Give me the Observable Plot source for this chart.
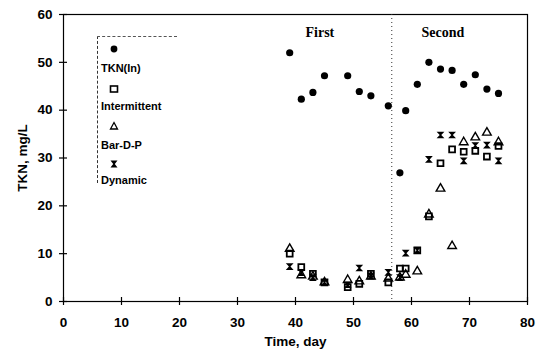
<!DOCTYPE html>
<html><head><meta charset="utf-8">
<script src="https://cdn.jsdelivr.net/npm/d3@7"></script>
<script src="https://cdn.jsdelivr.net/npm/@observablehq/plot@0.6"></script>
<style>
body{margin:0;background:#fff;}
#wrap{position:relative;width:546px;height:352px;font-family:"Liberation Sans",Arial,sans-serif;}
#legend{position:absolute;left:97px;top:36px;width:80px;height:147px;border-left:1.5px dashed #333;border-top:1.5px dashed #555;box-sizing:border-box;font-weight:bold;font-size:11px;color:#000;}
#legend .it{position:absolute;left:0;}
</style></head>
<body><div id="wrap"><div id="chart"></div><div id="legend"></div></div>
<script>
// ---- data ----
const tknDays = [39,41,43,45,49,51,53,56,58,59,61,63,65,67,69,71,73,75];
const tknIn   = [52,42.3,43.7,47.2,47.2,43.9,43,40.9,26.9,39.9,45.4,50,48.6,48.3,45.4,47.4,44.4,43.5];
const runDays = [39,41,43,45,49,51,53,56,58,59,61,63,65,67,69,71,73,75];
const intermittent = [10,7.2,5.8,4,3,3.7,5.8,4,6.9,6.9,10.7,17.8,28.9,31.8,31.3,31.5,30.3,32.5];
const barDP        = [11,5.5,5.2,4,4.5,4.2,5.2,4.8,5,5.6,6.3,18.2,23.6,11.6,33.3,34.3,35.3,33.3];
const dynamic      = [7.3,6,5,4,3.5,7,5.3,6.1,5,10.1,10.7,29.7,34.8,34.8,29.4,32.6,32.7,29.4];
const xTicks = [0,10,20,30,40,50,60,70,80];
const yTicks = [0,10,20,30,40,50,60];
const phaseBoundary = [56.6];
const phaseLabels = ["First","Second"];
const phaseLabelDay = [44.2,65.4];
const phaseLabelTkn = [56.3,56.3];
const seriesNames = ["TKN(In)","Intermittent","Bar-D-P","Dynamic"];

// hourglass symbol
const hourglass = {draw(ctx, size){const s=Math.sqrt(size/Math.PI); ctx.moveTo(-s,-s*0.85); ctx.lineTo(s,-s*0.85); ctx.lineTo(s*0.2,0); ctx.lineTo(s,s*0.85); ctx.lineTo(-s,s*0.85); ctx.lineTo(-s*0.2,0); ctx.closePath();}};

const tkn = tknDays.map((d,i)=>({day:d, v:tknIn[i]}));
const mk = arr => runDays.map((d,i)=>({day:d, v:arr[i]}));
const font = '"Liberation Sans", Arial, sans-serif';

const chart = Plot.plot({
  width:546, height:352,
  marginLeft:63, marginRight:19, marginTop:14, marginBottom:51,
  style:{fontFamily:font, fontSize:"13px", fontWeight:"bold", color:"#000", background:"#fff"},
  x:{domain:[0,80]},
  y:{domain:[0,60]},
  marks:[
    Plot.frame({stroke:"#000", strokeWidth:1.2}),
    Plot.ruleX(phaseBoundary, {stroke:"#333", strokeDasharray:"1,3", strokeWidth:1}),
    Plot.axisX({ticks:xTicks, tickSize:4, tickPadding:12, tickFormat:d=>d, label:"Time, day", labelAnchor:"center", labelArrow:"none", labelOffset:44, fontWeight:"bold", fontSize:13.5, strokeWidth:1.2}),
    Plot.axisX({ticks:xTicks, tickSize:-4, text:null, label:null, strokeWidth:1.2}),
    Plot.axisY({ticks:yTicks, tickSize:4, tickPadding:7, tickFormat:d=>d, label:"TKN, mg/L", labelAnchor:"center", labelArrow:"none", labelOffset:46, fontWeight:"bold", fontSize:13.5, strokeWidth:1.2}),
    Plot.axisY({ticks:yTicks, tickSize:-4, text:null, label:null, strokeWidth:1.2}),
    Plot.text(phaseLabels, {x:(d,i)=>phaseLabelDay[i], y:(d,i)=>phaseLabelTkn[i], text:d=>d, fontFamily:'"Liberation Serif", "Times New Roman", serif', fontSize:14, fontWeight:"bold", fill:"#000"}),
    Plot.dot(mk(dynamic), {x:"day", y:"v", symbol:hourglass, r:3.9, fill:"#000", stroke:"none"}),
    Plot.dot(mk(barDP), {x:"day", y:"v", symbol:"triangle", r:3.2, fill:"#fff", fillOpacity:0, stroke:"#000", strokeWidth:1.4}),
    Plot.dot(mk(intermittent), {x:"day", y:"v", symbol:"square", r:3.3, fill:"none", stroke:"#000", strokeWidth:1.8}),
    Plot.dot(tkn, {x:"day", y:"v", symbol:"circle", r:3.6, fill:"#000", stroke:"none"})
  ]
});
document.getElementById("chart").appendChild(chart);

// legend
const icons = [
  '<circle cx="6" cy="6" r="3.4" fill="#000"/>',
  '<rect x="2.5" y="3" width="7" height="6" fill="none" stroke="#000" stroke-width="1.6"/>',
  '<path d="M6,2.5L9.5,9L2.5,9Z" fill="none" stroke="#000" stroke-width="1.3"/>',
  '<path d="M2.5,2.5L9.5,2.5L6.8,6L9.5,9.5L2.5,9.5L5.2,6Z" fill="#000"/>'
];
const lg = document.getElementById("legend");
const iconTop = [6,46,83,121], textTop = [25,63,102,137];
seriesNames.forEach((n,i)=>{
  const ic = document.createElement("div"); ic.className="it"; ic.style.left="10px"; ic.style.top=iconTop[i]+"px";
  ic.innerHTML = '<svg width="12" height="12">'+icons[i]+'</svg>'; lg.appendChild(ic);
  const t = document.createElement("div"); t.className="it"; t.style.left="3px"; t.style.top=textTop[i]+"px"; t.textContent=n; lg.appendChild(t);
});
</script></body></html>
